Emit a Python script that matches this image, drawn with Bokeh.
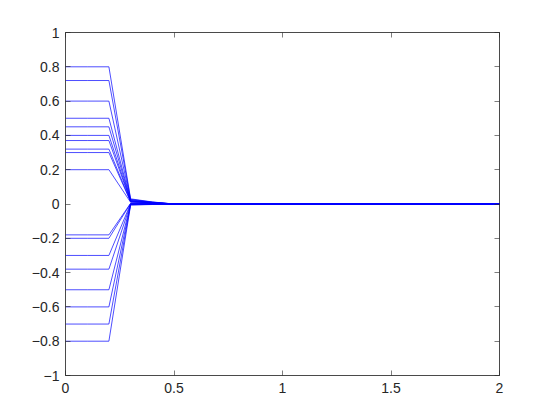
from bokeh.plotting import figure
from bokeh.models import FixedTicker, LinearAxis, Range1d
from bokeh.embed import file_html
from bokeh.resources import INLINE

# time grid
t = [0.0, 0.1, 0.2, 0.3, 0.4, 0.5, 0.6, 0.7, 0.8, 0.9, 1.0,
     1.1, 1.2, 1.3, 1.4, 1.5, 1.6, 1.7, 1.8, 1.9, 2.0]

# initial levels of each trajectory
x0 = [0.8, 0.72, 0.6, 0.5, 0.45, 0.4, 0.37, 0.32, 0.3, 0.2,
      -0.18, -0.2, -0.3, -0.38, -0.5, -0.6, -0.7, -0.8]
# values at t = 0.3 and t = 0.4 (small residual oscillation)
v03 = [0.030, 0.027, 0.024, 0.021, 0.019, 0.017, 0.016, 0.014, 0.013, 0.010,
       0.004, 0.003, 0.001, 0.000, -0.002, -0.003, -0.005, -0.006]
v04 = [0.012, 0.011, 0.010, 0.009, 0.008, 0.007, 0.007, 0.006, 0.006, 0.005,
       0.002, 0.002, 0.001, 0.000, -0.001, -0.001, -0.002, -0.003]
v_rest = [0.0] * 16

yticks = [-1, -0.8, -0.6, -0.4, -0.2, 0, 0.2, 0.4, 0.6, 0.8, 1]
xticks = [0, 0.5, 1, 1.5, 2]

p = figure(width=533, height=412, output_backend="svg", toolbar_location=None,
           x_range=Range1d(0, 2), y_range=Range1d(-1, 1),
           min_border_left=65, min_border_right=34, min_border_top=32, min_border_bottom=37)
p.grid.visible = False
p.background_fill_color = "white"
p.border_fill_color = "white"
p.outline_line_color = "#262626"
p.outline_line_width = 0.6

for i in range(len(x0)):
    ys = [x0[i], x0[i], x0[i], v03[i], v04[i]] + v_rest
    p.line(t, ys, line_color="#0000ff", line_width=0.7)

def style(ax):
    ax.axis_line_color = "#262626"
    ax.axis_line_width = 0.6
    ax.major_tick_in = 5
    ax.major_tick_out = 0
    ax.minor_tick_line_color = None
    ax.major_tick_line_color = "#262626"
    ax.major_tick_line_width = 0.6
    ax.major_label_text_font = "Liberation Sans"
    ax.major_label_text_font_size = "14px"
    ax.major_label_text_color = "#262626"

p.xaxis.ticker = FixedTicker(ticks=xticks)
p.yaxis.ticker = FixedTicker(ticks=yticks)
style(p.xaxis[0]); style(p.yaxis[0])
p.xaxis.major_label_standoff = 7
p.yaxis.major_label_standoff = 6

ra = LinearAxis(ticker=FixedTicker(ticks=yticks),
                major_label_overrides={v: "" for v in yticks})
style(ra)
p.add_layout(ra, "right")
ta = LinearAxis(ticker=FixedTicker(ticks=xticks),
                major_label_overrides={v: "" for v in xticks})
style(ta)
p.add_layout(ta, "above")

open("out.html", "w").write(file_html(p, INLINE))
